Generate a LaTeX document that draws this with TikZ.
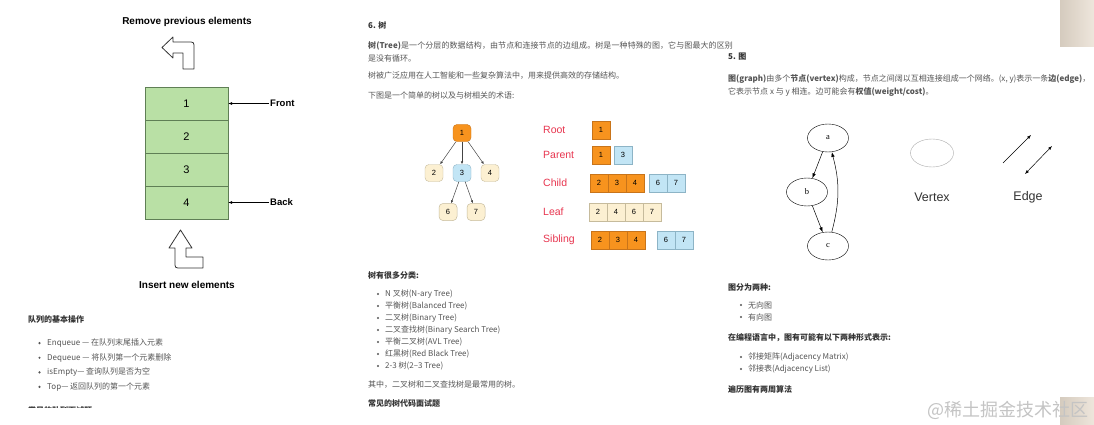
\documentclass[tikz,border=0pt]{standalone}
\usepackage{fontspec}
\setsansfont{Liberation Sans}
\setmainfont{Liberation Serif}
\newfontfamily\cjk{Noto Sans CJK SC}
\usetikzlibrary{arrows.meta,positioning,shapes.geometric}
\definecolor{qgreen}{HTML}{B9E0A5}
\definecolor{qline}{HTML}{5F7F55}
\definecolor{torange}{HTML}{F7931E}
\definecolor{toline}{HTML}{C8741A}
\definecolor{tblue}{HTML}{C2E5F5}
\definecolor{tbline}{HTML}{8DB4C6}
\definecolor{tbeige}{HTML}{FCF0D2}
\definecolor{tyline}{HTML}{C6BB9C}
\definecolor{termred}{HTML}{E8354F}
\definecolor{bodygrey}{HTML}{555555}
\definecolor{headgrey}{HTML}{333333}
\definecolor{edgegrey}{HTML}{444444}
\definecolor{vxgrey}{HTML}{AAAAAA}
\definecolor{wmgrey}{HTML}{C4C4C4}
\definecolor{paperA}{HTML}{D5CBBE}
\definecolor{paperB}{HTML}{EEE6DC}
\begin{document}
\begin{tikzpicture}[x=1pt,y=-1pt]
\tikzstyle{bodytext}=[anchor=west,inner sep=0pt,text=bodygrey,font=\cjk\fontsize{8}{9}\selectfont]
\tikzstyle{headtext}=[bodytext,text=headgrey,font=\cjk\bfseries\fontsize{8}{9}\selectfont]
\tikzstyle{qtitle}=[inner sep=0pt,font=\sffamily\bfseries\fontsize{10}{10}\selectfont]
\tikzstyle{qlabel}=[anchor=west,inner sep=0pt,font=\sffamily\bfseries\fontsize{9.5}{10}\selectfont]
\tikzstyle{qcell}=[draw=qline,fill=qgreen,minimum width=83pt,minimum height=33pt,inner sep=0pt,font=\sffamily\fontsize{11}{11}\selectfont]
\tikzstyle{pointer}=[line width=0.5pt,-{Latex[length=4pt,width=3pt]}]
\tikzstyle{blockarrow}=[draw=black!80,fill=white,line width=0.8pt,line join=round]
\tikzstyle{tnode}=[draw,rounded corners=4pt,minimum width=18pt,minimum height=17pt,inner sep=0pt,font=\sffamily\fontsize{7.5}{7.5}\selectfont]
\tikzstyle{onode}=[tnode,draw=toline,fill=torange]
\tikzstyle{bnode}=[tnode,draw=tbline,fill=tblue]
\tikzstyle{ynode}=[tnode,draw=tyline,fill=tbeige]
\tikzstyle{cell}=[draw,minimum size=18pt,inner sep=0pt,font=\sffamily\fontsize{7.5}{7.5}\selectfont]
\tikzstyle{ocell}=[cell,draw=toline,fill=torange]
\tikzstyle{bcell}=[cell,draw=tbline,fill=tblue]
\tikzstyle{ycell}=[cell,draw=tyline,fill=tbeige]
\tikzstyle{termlabel}=[anchor=west,inner sep=0pt,text=termred,font=\sffamily\fontsize{10.5}{11}\selectfont]
\tikzstyle{gvertex}=[draw,ellipse,minimum width=41pt,minimum height=28pt,inner sep=0pt,font=\rmfamily\fontsize{8.5}{8.5}\selectfont]
\tikzstyle{garrow}=[line width=0.5pt,-{Latex[length=5pt,width=3.5pt]}]
\tikzstyle{bigsans}=[inner sep=0pt,text=headgrey,font=\sffamily\fontsize{12.5}{13}\selectfont]
\tikzstyle{level 1}=[sibling distance=28pt,level distance=40pt]
\tikzstyle{level 2}=[sibling distance=28pt,level distance=39pt]
\tikzstyle{edge from parent}=[draw,edgegrey,line width=0.5pt,-{Latex[length=3pt,width=2.5pt]}]

\fill[white] (0,0) rectangle (1094,425);
\useasboundingbox (0,0) rectangle (1094,425);
\shade[left color=paperA,right color=paperB] (1060,0) rectangle (1094,47);
\shade[left color=paperA,right color=paperB] (1060,397) rectangle (1094,425);

% queue
\node[qtitle] (remove) at (187,22) {Remove previous elements};
\draw[blockarrow] (183,69) -- (183,53) -- (173,53) -- (173,58) -- (162,47.5) -- (173,37) -- (173,42)
  -- (188,42) .. controls (194,42) .. (194,48) -- (194,69) -- cycle;
\foreach \n in {1,2,3,4}
  \node[qcell] (q\n) at (186.5,70.5+33*\n) {\n};
\node[qlabel] (front) at (270,103.5) {Front};
\node[qlabel] (back) at (270,202.5) {Back};
\draw[pointer] ([xshift=-1pt]front.west) -- (q1.east);
\draw[pointer] ([xshift=-1pt]back.west) -- (q4.east);
\draw[blockarrow] (186,248) -- (186,257) -- (203,257) -- (203,268) -- (181,268) .. controls (175,268) .. (175,262)
  -- (175,248) -- (169,248) -- (180.5,230) -- (192,248) -- cycle;
\node[qtitle] (insert) at (187,285) {Insert new elements};

\node[headtext] (qops) at (28,319) {队列的基本操作};
\foreach \txt [count=\i] in {Enqueue — 在队列末尾插入元素,Dequeue — 将队列第一个元素删除,isEmpty— 查询队列是否为空,Top— 返回队列的第一个元素}{
  \node[bodytext] (qi\i) at (47,328.5+14.6*\i) {\txt};
  \fill[bodygrey] ([xshift=-7.5pt]qi\i.west) circle (1.2pt);
}
\begin{scope}
  \clip (20,403.5) rectangle (130,407.5);
  \node[headtext] (qnext) at (28,410) {常见的队列面试题};
\end{scope}

% tree
\node[headtext] (tsec) at (368,25) {6. 树};
\node[bodytext] (tp1) at (368,46) {\addfontfeature{LetterSpace=1.2}{\bfseries 树(Tree)}是一个分层的数据结构，由节点和连接节点的边组成。树是一种特殊的图，它与图最大的区别};
\node[bodytext] (tp2) at (368,58) {是没有循环。};
\node[bodytext] (tp3) at (368,76) {树被广泛应用在人工智能和一些复杂算法中，用来提供高效的存储结构。};
\node[bodytext] (tp4) at (368,95) {下图是一个简单的树以及与树相关的术语:};

\node[onode] (t1) at (462,133) {1}
  child{ node[ynode] (t2) {2} }
  child{ node[bnode] (t3) {3}
    child{ node[ynode] (t6) {6} }
    child{ node[ynode] (t7) {7} } }
  child{ node[ynode] (t4) {4} };

\node[termlabel] (lroot) at (543,130) {Root};
\node[termlabel] (lparent) at (543,155) {Parent};
\node[termlabel] (lchild) at (543,183) {Child};
\node[termlabel] (lleaf) at (543,211.5) {Leaf};
\node[termlabel] (lsibling) at (543,239.5) {Sibling};
\node[ocell] (r1) at (601,130) {1};
\node[ocell] (p1) at (601,155) {1};
\node[bcell] (p3) at (623,155) {3};
\foreach \n [count=\i] in {2,3,4}
  \node[ocell] (c\n) at (581+18*\i,183) {\n};
\foreach \n [count=\i] in {6,7}
  \node[bcell] (c\n) at (640+18*\i,183) {\n};
\foreach \n [count=\i] in {2,4,6,7}
  \node[ycell] (l\n) at (580+18*\i,212) {\n};
\foreach \n [count=\i] in {2,3,4}
  \node[ocell] (s\n) at (582+18*\i,240) {\n};
\foreach \n [count=\i] in {6,7}
  \node[bcell] (s\n) at (648+18*\i,240) {\n};

\node[headtext] (tkinds) at (368,275) {树有很多分类:};
\foreach \txt [count=\i] in {N 叉树(N-ary Tree),平衡树(Balanced Tree),二叉树(Binary Tree),二叉查找树(Binary Search Tree),平衡二叉树(AVL Tree),红黑树(Red Black Tree),2-3 树(2–3 Tree)}{
  \node[bodytext] (ti\i) at (385,282+12*\i) {\txt};
  \fill[bodygrey] ([xshift=-7pt]ti\i.west) circle (1.1pt);
}
\node[bodytext] (tnote) at (368,385) {其中，二叉树和二叉查找树是最常用的树。};
\node[headtext] (tnext) at (368,403) {常见的树代码面试题};

% graph
\node[headtext] (gsec) at (728,57) {5. 图};
\node[bodytext] (gp1) at (728,79) {{\bfseries 图(graph)}由多个{\bfseries 节点(vertex)}构成，节点之间阔以互相连接组成一个网络。(x, y)表示一条{\bfseries 边(edge)}，};
\node[bodytext] (gp2) at (728,92) {它表示节点 x 与 y 相连。边可能会有{\bfseries 权值(weight/cost)}。};

\node[gvertex] (ga) at (828,138) {a};
\node[gvertex] (gb) at (807,192) {b};
\node[gvertex] (gc) at (828,246) {c};
\draw[garrow] (ga) -- (gb);
\draw[garrow] (gb) -- (gc);
\draw[garrow] (gc) to[bend right=15] (ga);

\node[gvertex,draw=vxgrey,minimum width=43pt] (vx) at (932,153) {};
\node[bigsans] (lvertex) at (932,197) {Vertex};
\coordinate (e1s) at (1003,163);
\coordinate (e1t) at (1031,135);
\coordinate (e2s) at (1025,174);
\coordinate (e2t) at (1052,146);
\draw[line width=0.5pt,-{Latex[length=4pt,width=3pt]}] (e1s) -- (e1t);
\draw[line width=0.5pt,{Latex[length=4pt,width=3pt]}-{Latex[length=4pt,width=3pt]}] (e2s) -- (e2t);
\node[bigsans] (ledge) at (1028,197) {Edge};

\node[headtext] (gkinds) at (728,287) {图分为两种:};
\foreach \txt [count=\i] in {无向图,有向图}{
  \node[bodytext] (gi\i) at (748,293+12*\i) {\txt};
  \fill[bodygrey] ([xshift=-7pt]gi\i.west) circle (1.1pt);
}
\node[headtext] (grep) at (728,338) {在编程语言中，图有可能有以下两种形式表示:};
\foreach \txt [count=\i] in {邻接矩阵(Adjacency Matrix),邻接表(Adjacency List)}{
  \node[bodytext] (gr\i) at (748,345+12*\i) {\txt};
  \fill[bodygrey] ([xshift=-7pt]gr\i.west) circle (1.1pt);
}
\node[headtext] (gnext) at (728,389) {遍历图有两周算法};

\node[anchor=west,inner sep=0pt,text=wmgrey,font=\cjk\fontsize{18}{18}\selectfont] (wm) at (927,410) {@稀土掘金技术社区};
\end{tikzpicture}
\end{document}
